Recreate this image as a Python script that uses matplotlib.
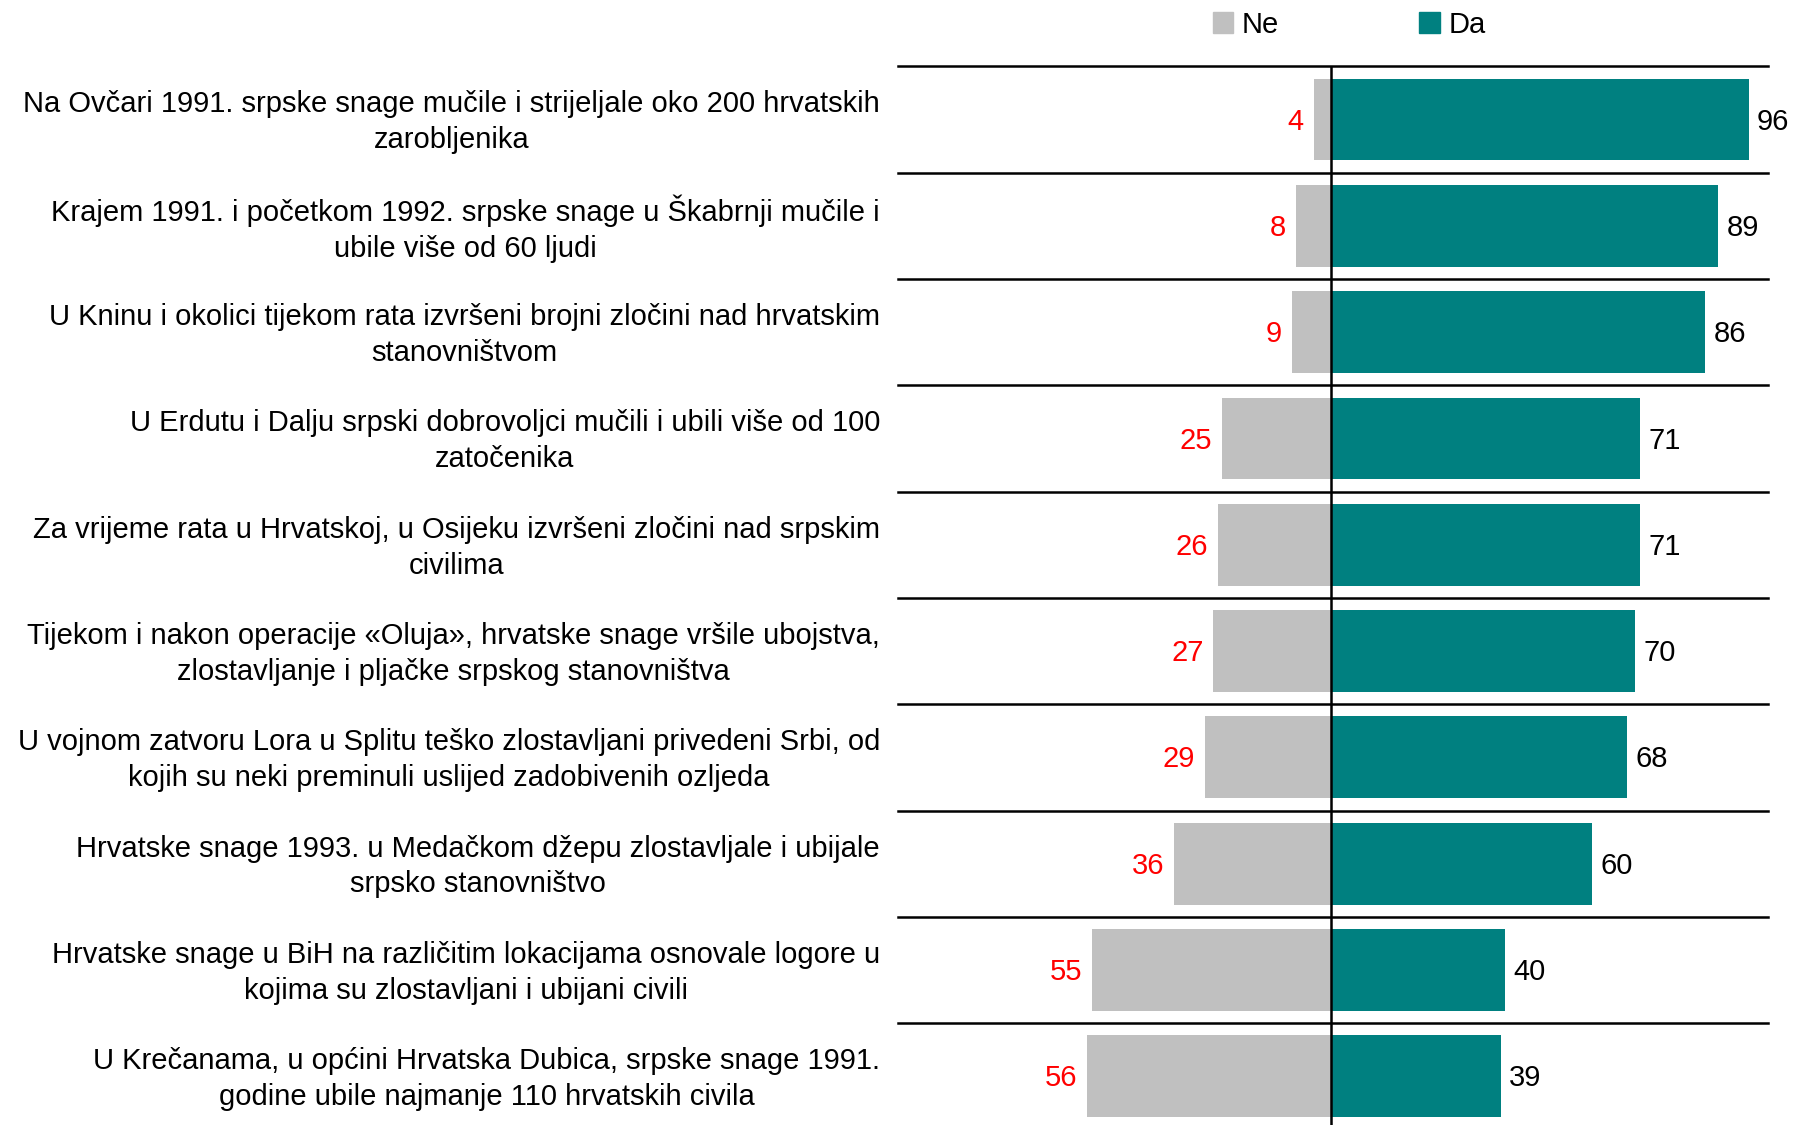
import matplotlib.pyplot as plt
from matplotlib.patches import Patch

plt.rcParams['font.family'] = ['Liberation Sans', 'DejaVu Sans']

labels = [
    "Na Ovčari 1991. srpske snage mučile i strijeljale oko 200 hrvatskih\nzarobljenika",
    "Krajem 1991. i početkom 1992. srpske snage u Škabrnji mučile i\nubile više od 60 ljudi",
    "U Kninu i okolici tijekom rata izvršeni brojni zločini nad hrvatskim\nstanovništvom",
    "U Erdutu i Dalju srpski dobrovoljci mučili i ubili više od 100\nzatočenika",
    "Za vrijeme rata u Hrvatskoj, u Osijeku izvršeni zločini nad srpskim\ncivilima",
    "Tijekom i nakon operacije «Oluja», hrvatske snage vršile ubojstva,\nzlostavljanje i pljačke srpskog stanovništva",
    "U vojnom zatvoru Lora u Splitu teško zlostavljani privedeni Srbi, od\nkojih su neki preminuli uslijed zadobivenih ozljeda",
    "Hrvatske snage 1993. u Medačkom džepu zlostavljale i ubijale\nsrpsko stanovništvo",
    "Hrvatske snage u BiH na različitim lokacijama osnovale logore u\nkojima su zlostavljani i ubijani civili",
    "U Krečanama, u općini Hrvatska Dubica, srpske snage 1991.\ngodine ubile najmanje 110 hrvatskih civila",
]
ne = [4, 8, 9, 25, 26, 27, 29, 36, 55, 56]
da = [96, 89, 86, 71, 71, 70, 68, 60, 40, 39]

GRAY = '#c0c0c0'
TEAL = '#008080'
FS = 21

fig = plt.figure(figsize=(17.94, 11.25), dpi=100)
ax = fig.add_axes([0.5006, -0.004, 0.485, 0.945])

y = list(range(len(labels)))
ax.barh(y, [-v for v in ne], height=0.77, color=GRAY)
ax.barh(y, da, height=0.77, color=TEAL)

ax.set_xlim(-99.5, 100.5)
ax.set_ylim(len(labels) - 0.5, -0.5)
ax.axis('off')

# row separators and center line
for i in range(len(labels)):
    ax.axhline(i - 0.5, color='black', lw=1.8, clip_on=False)
ax.axvline(0, color='black', lw=1.8)

for i, (n, d) in enumerate(zip(ne, da)):
    ax.annotate(str(n), (-n, i), xytext=(-7, -1.5), textcoords='offset points',
                ha='right', va='center', fontsize=FS, color='red')
    ax.annotate(str(d), (d, i), xytext=(6, -1.5), textcoords='offset points',
                ha='left', va='center', fontsize=FS, color='black')
    ax.annotate(labels[i], xy=(0, i), xycoords=ax.get_yaxis_transform(),
                xytext=(-13, -2), textcoords='offset points',
                ha='right', va='center', multialignment='center',
                fontsize=FS, linespacing=1.36)

handles = [Patch(color=GRAY, label='Ne'), Patch(color=TEAL, label='Da')]
fig.legend(handles=handles, loc='center', bbox_to_anchor=(0.752, 0.978),
           ncol=2, frameon=False, fontsize=FS, handlelength=0.7,
           handleheight=0.7, handletextpad=0.3, columnspacing=4.8)

fig.savefig('out.png', dpi=100)
